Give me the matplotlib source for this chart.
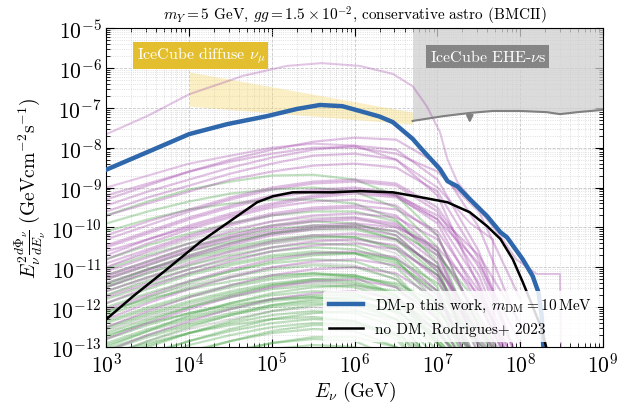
import numpy as np
import matplotlib
matplotlib.use("Agg")
import matplotlib.pyplot as plt

plt.rcParams['font.family'] = 'serif'
plt.rcParams['font.serif'] = ['cmr10']
plt.rcParams['mathtext.fontset'] = 'cm'
plt.rcParams['axes.formatter.use_mathtext'] = True
plt.rcParams['axes.unicode_minus'] = False

# ---------------- data (log10 values) ----------------
dm_logE = [3.0, 3.44, 4.0, 4.46, 4.94, 5.3, 5.58, 5.85, 6.06, 6.30, 6.46, 6.70, 6.81, 7.03, 7.12, 7.24,
           7.39, 7.60, 7.76, 7.84, 8.03, 8.15, 8.22, 8.26, 8.28]
dm_logF = [-8.55, -8.16, -7.66, -7.41, -7.21, -7.03, -6.93, -6.96, -7.08, -7.22, -7.36, -7.78, -8.04,
           -8.54, -8.84, -8.97, -9.29, -9.72, -10.12, -10.25, -10.80, -11.22, -11.63, -12.23, -13.06]

nodm_logE = [3.0, 3.32, 3.73, 4.13, 4.53, 4.82, 5.01, 5.25, 5.74, 6.06, 6.46, 6.79, 7.12, 7.39, 7.60,
             7.76, 7.91, 8.03, 8.15, 8.26, 8.32]
nodm_logF = [-12.30, -11.73, -11.05, -10.37, -9.79, -9.37, -9.22, -9.12, -9.12, -9.09, -9.12, -9.24,
             -9.37, -9.62, -9.97, -10.29, -10.80, -11.37, -11.98, -12.55, -13.06]

diff_logE = [4.0, 6.70]
diff_top = [-6.10, -7.11]
diff_bot = [-6.96, -7.41]

ehe_logE = [6.70, 7.07, 7.39, 7.67, 8.00, 8.32, 8.48, 8.69, 8.96, 9.0]
ehe_logF = [-7.33, -7.21, -7.13, -7.08, -7.08, -7.11, -7.16, -7.11, -7.06, -7.05]
ehe_arrow_logE = 7.39

grid_logE = [3.0, 3.5, 4.0, 4.5, 5.0, 5.5, 6.0, 6.5, 7.0, 7.5, 8.0]

purple_curves = [
    [-9.30, -8.95, -8.60, -8.30, -8.05, -7.85, -7.75, -7.80, -8.40, -10.0, -12.5],
    [-9.45, -9.10, -8.80, -8.50, -8.25, -8.05, -7.95, -8.05, -8.80, -10.6, -13.5],
    [-9.60, -9.25, -8.95, -8.65, -8.40, -8.20, -8.15, -8.30, -9.20, -11.5, -14.0],
    [-9.20, -8.90, -8.60, -8.35, -8.15, -8.00, -8.00, -8.15, -8.60, -9.60, -11.8],
    [-9.70, -9.40, -9.10, -8.80, -8.60, -8.45, -8.40, -8.50, -9.10, -10.8, -13.5],
    [-10.30, -9.95, -9.60, -9.30, -9.05, -8.90, -8.85, -8.95, -9.60, -11.2, -13.8],
    [-10.50, -10.15, -9.80, -9.50, -9.25, -9.10, -9.05, -9.20, -9.90, -11.8, -14.0],
    [-10.60, -10.30, -10.00, -9.70, -9.45, -9.25, -9.15, -9.25, -9.80, -10.9, -12.9],
    [-10.80, -10.40, -10.05, -9.75, -9.50, -9.35, -9.30, -9.45, -10.2, -12.5, -14.0],
    [-10.90, -10.55, -10.20, -9.90, -9.65, -9.50, -9.45, -9.55, -10.1, -11.6, -14.0],
    [-11.00, -10.60, -10.25, -9.95, -9.70, -9.55, -9.50, -9.70, -10.6, -13.2, -14.0],
    [-11.10, -10.75, -10.40, -10.10, -9.85, -9.70, -9.65, -9.75, -10.3, -11.9, -14.0],
    [-11.20, -10.85, -10.50, -10.20, -9.95, -9.80, -9.75, -9.90, -10.7, -12.8, -14.0],
    [-11.30, -10.95, -10.60, -10.30, -10.10, -9.95, -9.90, -10.00, -10.5, -11.7, -13.6],
    [-11.40, -11.05, -10.70, -10.40, -10.15, -10.00, -9.95, -10.10, -10.9, -13.0, -14.0],
    [-11.50, -11.10, -10.75, -10.45, -10.20, -10.05, -10.00, -10.20, -11.1, -13.5, -14.0],
    [-11.60, -11.25, -10.90, -10.60, -10.35, -10.20, -10.15, -10.30, -11.0, -12.6, -14.0],
    [-11.75, -11.40, -11.05, -10.75, -10.50, -10.35, -10.30, -10.45, -11.3, -13.6, -14.0],
    [-11.90, -11.50, -11.15, -10.85, -10.60, -10.45, -10.40, -10.55, -11.2, -12.9, -14.0],
    [-12.05, -11.70, -11.35, -11.05, -10.80, -10.65, -10.60, -10.75, -11.6, -14.0, -14.0],
    [-10.45, -10.10, -9.75, -9.45, -9.20, -9.05, -9.00, -9.15, -9.80, -11.4, -14.0],
    [-10.70, -10.30, -9.95, -9.65, -9.40, -9.20, -9.10, -9.20, -9.70, -10.7, -12.4],
    [-10.20, -9.85, -9.55, -9.25, -9.00, -8.85, -8.80, -8.90, -9.50, -11.0, -13.5],
    [-11.25, -10.90, -10.55, -10.25, -10.00, -9.85, -9.80, -9.95, -10.6, -12.2, -14.0],
    [-12.30, -11.90, -11.55, -11.25, -11.00, -10.85, -10.80, -10.95, -11.7, -14.0, -14.0],
    [-12.50, -12.10, -11.75, -11.45, -11.20, -11.05, -11.00, -11.15, -11.8, -13.5, -14.0],
    [-12.80, -12.40, -12.05, -11.75, -11.50, -11.35, -11.30, -11.50, -12.3, -14.0, -14.0],
    [-13.10, -12.70, -12.35, -12.05, -11.80, -11.65, -11.60, -11.80, -12.6, -14.0, -14.0],
]

green_curves = [
    [-9.70, -9.35, -9.05, -8.85, -8.70, -8.68, -8.80, -9.20, -10.2, -12.5, -14.0],
    [-9.90, -9.60, -9.35, -9.15, -9.05, -9.00, -9.10, -9.50, -10.5, -13.0, -14.0],
    [-10.10, -9.80, -9.55, -9.40, -9.30, -9.30, -9.40, -9.80, -10.9, -14.0, -14.0],
    [-11.20, -10.85, -10.50, -10.25, -10.05, -9.95, -10.00, -10.30, -11.2, -13.5, -14.0],
    [-11.40, -11.05, -10.75, -10.50, -10.30, -10.20, -10.25, -10.55, -11.5, -14.0, -14.0],
    [-11.60, -11.25, -10.95, -10.70, -10.50, -10.40, -10.45, -10.80, -11.9, -14.0, -14.0],
    [-11.80, -11.45, -11.15, -10.90, -10.70, -10.60, -10.65, -11.00, -11.95, -14.0, -14.0],
    [-12.00, -11.65, -11.35, -11.10, -10.90, -10.80, -10.85, -11.20, -12.3, -14.0, -14.0],
    [-12.20, -11.85, -11.50, -11.25, -11.05, -10.95, -11.00, -11.30, -12.2, -14.0, -14.0],
    [-12.35, -12.00, -11.70, -11.45, -11.25, -11.15, -11.20, -11.50, -12.5, -14.0, -14.0],
    [-12.50, -12.15, -11.85, -11.60, -11.40, -11.30, -11.35, -11.70, -12.8, -14.0, -14.0],
    [-12.65, -12.30, -12.00, -11.75, -11.55, -11.45, -11.50, -11.85, -12.9, -14.0, -14.0],
    [-12.80, -12.45, -12.15, -11.90, -11.70, -11.60, -11.65, -12.00, -13.1, -14.0, -14.0],
    [-12.95, -12.60, -12.30, -12.05, -11.85, -11.75, -11.80, -12.15, -13.3, -14.0, -14.0],
    [-13.10, -12.75, -12.45, -12.20, -12.00, -11.90, -11.95, -12.30, -13.5, -14.0, -14.0],
    [-13.30, -12.95, -12.65, -12.40, -12.20, -12.10, -12.15, -12.50, -14.0, -14.0, -14.0],
    [-13.50, -13.15, -12.85, -12.60, -12.40, -12.30, -12.35, -12.70, -14.0, -14.0, -14.0],
    [-13.80, -13.40, -13.10, -12.85, -12.65, -12.55, -12.60, -13.00, -14.0, -14.0, -14.0],
    [-14.10, -13.70, -13.35, -13.10, -12.90, -12.80, -12.85, -13.30, -14.0, -14.0, -14.0],
    [-14.50, -14.00, -13.60, -13.30, -13.05, -12.95, -13.00, -13.50, -14.0, -14.0, -14.0],
    [-11.30, -10.95, -10.60, -10.35, -10.15, -10.05, -10.05, -10.30, -11.0, -12.4, -14.0],
    [-11.90, -11.55, -11.20, -10.95, -10.75, -10.65, -10.65, -10.90, -11.6, -12.9, -14.0],
    [-12.40, -12.05, -11.75, -11.50, -11.30, -11.20, -11.20, -11.45, -12.1, -13.3, -14.0],
    [-12.90, -12.55, -12.25, -12.00, -11.80, -11.70, -11.70, -11.95, -12.6, -13.8, -14.0],
    [-13.00, -12.60, -12.20, -11.90, -11.65, -11.50, -11.45, -11.60, -12.1, -12.9, -14.0],
    [-13.40, -13.00, -12.65, -12.35, -12.10, -11.95, -11.90, -12.10, -12.7, -13.6, -14.0],
    [-13.70, -13.30, -12.95, -12.70, -12.50, -12.40, -12.40, -12.65, -13.3, -14.0, -14.0],
    [-12.10, -11.80, -11.55, -11.35, -11.20, -11.15, -11.25, -11.70, -12.9, -14.0, -14.0],
    [-12.70, -12.40, -12.15, -11.95, -11.80, -11.75, -11.85, -12.30, -13.5, -14.0, -14.0],
    [-13.20, -12.90, -12.65, -12.45, -12.30, -12.25, -12.35, -12.80, -14.0, -14.0, -14.0],
    [-10.80, -10.45, -10.15, -9.90, -9.70, -9.60, -9.60, -9.85, -10.6, -12.3, -14.0],
    [-11.05, -10.70, -10.40, -10.15, -9.95, -9.85, -9.90, -10.20, -11.1, -13.2, -14.0],
    [-11.50, -11.15, -10.80, -10.55, -10.35, -10.25, -10.25, -10.50, -11.2, -12.7, -14.0],
    [-11.70, -11.35, -11.05, -10.80, -10.60, -10.50, -10.55, -10.85, -11.7, -13.4, -14.0],
    [-12.15, -11.75, -11.40, -11.10, -10.85, -10.70, -10.65, -10.80, -11.4, -12.6, -14.0],
    [-12.55, -12.20, -11.90, -11.65, -11.45, -11.35, -11.40, -11.75, -12.6, -14.0, -14.0],
    [-12.75, -12.35, -12.00, -11.70, -11.45, -11.30, -11.25, -11.40, -11.9, -12.8, -14.0],
    [-13.05, -12.70, -12.40, -12.15, -11.95, -11.85, -11.85, -12.10, -12.8, -13.9, -14.0],
    [-13.25, -12.85, -12.50, -12.20, -11.95, -11.80, -11.75, -11.90, -12.4, -13.2, -14.0],
    [-13.60, -13.20, -12.85, -12.55, -12.30, -12.15, -12.10, -12.30, -12.9, -13.8, -14.0],
    [-13.90, -13.50, -13.15, -12.85, -12.60, -12.45, -12.45, -12.70, -13.4, -14.0, -14.0],
    [-14.20, -13.80, -13.45, -13.15, -12.90, -12.75, -12.75, -13.00, -13.7, -14.0, -14.0],
    [-14.60, -14.10, -13.75, -13.45, -13.20, -13.05, -13.05, -13.30, -14.0, -14.0, -14.0],
    [-11.45, -11.05, -10.70, -10.40, -10.15, -10.00, -9.95, -10.10, -10.7, -11.9, -14.0],
]

grey_curves = [
    [-11.00, -10.65, -10.30, -10.05, -9.85, -9.75, -9.75, -10.00, -10.8, -13.0, -14.0],
    [-11.50, -11.15, -10.85, -10.60, -10.40, -10.30, -10.35, -10.65, -11.6, -14.0, -14.0],
    [-12.10, -11.75, -11.45, -11.20, -11.00, -10.90, -10.95, -11.30, -12.3, -14.0, -14.0],
    [-12.60, -12.25, -11.95, -11.70, -11.50, -11.40, -11.45, -11.80, -12.9, -14.0, -14.0],
    [-13.20, -12.85, -12.55, -12.30, -12.10, -12.00, -12.05, -12.40, -13.6, -14.0, -14.0],
    [-11.70, -11.30, -10.95, -10.65, -10.40, -10.25, -10.20, -10.35, -11.0, -12.5, -14.0],
]

ptop_logE = [3.0, 3.5, 4.0, 4.65, 5.18, 5.6, 6.06, 6.46, 6.70, 6.87, 7.03, 7.12, 7.24, 7.53, 7.76,
             7.95, 8.20, 8.48, 8.50]
ptop_logF = [-7.66, -7.20, -6.66, -6.20, -5.95, -5.88, -5.95, -6.15, -6.46, -6.96, -7.61, -8.29, -8.86,
             -9.62, -10.22, -10.80, -11.17, -11.17, -14.0]
pdrop_logE = [3.0, 4.0, 5.0, 5.5, 6.0, 6.5, 7.0, 7.4, 7.67, 7.68]
pdrop_logF = [-9.00, -8.40, -8.00, -7.90, -7.95, -8.30, -9.00, -9.90, -10.30, -14.0]

# ---------------- figure ----------------
fig = plt.figure(figsize=(6.17, 4.10), dpi=100)
ax = fig.add_axes([0.1726, 0.1512, 0.8047, 0.7780])

ge = 10 ** np.array(grid_logE)
for c in green_curves:
    ax.plot(ge, 10 ** np.array(c), color='#3f9e3f', alpha=0.33, lw=1.6, zorder=2)
for c in grey_curves:
    ax.plot(ge, 10 ** np.array(c), color='#666666', alpha=0.2, lw=1.4, zorder=2)
for c in purple_curves:
    ax.plot(ge, 10 ** np.array(c), color='#a040a8', alpha=0.32, lw=1.6, zorder=2)
ax.plot(10 ** np.array(ptop_logE), 10 ** np.array(ptop_logF), color='#a040a8', alpha=0.3, lw=1.5, zorder=2)
ax.plot(10 ** np.array(pdrop_logE), 10 ** np.array(pdrop_logF), color='#a040a8', alpha=0.3, lw=1.5, zorder=2)

de = 10 ** np.array(diff_logE)
ax.fill_between(de, 10 ** np.array(diff_bot), 10 ** np.array(diff_top), color='#f5d76e', alpha=0.4,
                lw=0, zorder=1.5)

ee = 10 ** np.array(ehe_logE)
ax.fill_between(ee, 10 ** np.array(ehe_logF), 1e-5, color='#cfcfcf', alpha=0.75, lw=0, zorder=1.5)
ax.plot(ee, 10 ** np.array(ehe_logF), color='#808080', lw=1.5, zorder=3)
ya = 10 ** np.interp(ehe_arrow_logE, ehe_logE, ehe_logF)
ax.annotate('', xy=(10 ** ehe_arrow_logE, ya * 10 ** -0.32), xytext=(10 ** ehe_arrow_logE, ya),
            arrowprops=dict(arrowstyle='-|>', color='#808080', lw=1.5, mutation_scale=10), zorder=3)

ax.plot(10 ** np.array(dm_logE), 10 ** np.array(dm_logF), color='#2e67ab', lw=3.2, zorder=5,
        label=r'DM-p this work, $m_{\rm DM}=10\,\mathrm{MeV}$')
ax.plot(10 ** np.array(nodm_logE), 10 ** np.array(nodm_logF), color='black', lw=1.8, zorder=5,
        label='no DM, Rodrigues+ 2023')

ax.set_xscale('log')
ax.set_yscale('log')
ax.set_xlim(1e3, 1e9)
ax.set_ylim(1e-13, 1e-5)

ax.text(0.190, 0.915, r'IceCube diffuse $\nu_\mu$', transform=ax.transAxes, ha='center', va='center',
        fontsize=11.5, color='white', zorder=6,
        bbox=dict(boxstyle='square,pad=0.2', fc='#e3bf2f', ec='none'))
ax.text(0.768, 0.911, r'IceCube EHE-$\nu$s', transform=ax.transAxes, ha='center', va='center',
        fontsize=11.5, color='white', zorder=6,
        bbox=dict(boxstyle='square,pad=0.2', fc='#858585', ec='none'))

ax.set_title(r'$m_Y=5$ GeV, $gg=1.5\times10^{-2}$, conservative astro (BMCII)', fontsize=11, pad=6)
ax.set_xlabel(r'$E_\nu\ (\mathrm{GeV})$', fontsize=14, labelpad=2)
ax.set_ylabel(r'$E_\nu^2\frac{d\Phi_\nu}{dE_\nu}\ (\mathrm{GeV cm^{-2} s^{-1}})$', fontsize=14, labelpad=2)

ax.xaxis.set_major_locator(matplotlib.ticker.LogLocator(base=10, numticks=20))
ax.yaxis.set_major_locator(matplotlib.ticker.LogLocator(base=10, numticks=20))
ax.xaxis.set_minor_locator(matplotlib.ticker.LogLocator(base=10, subs=np.arange(2, 10), numticks=100))
ax.yaxis.set_minor_locator(matplotlib.ticker.LogLocator(base=10, subs=np.arange(2, 10), numticks=100))
ax.tick_params(which='both', direction='in', top=True, right=True, labelsize=15.5)
ax.tick_params(which='major', length=6, width=0.8)
ax.tick_params(which='minor', length=3, width=0.6)
ax.grid(which='major', color='#b0b0b0', ls='--', lw=0.6, alpha=0.7)
ax.grid(which='minor', color='#c4c4c4', ls=':', lw=0.6, alpha=0.7)
ax.set_axisbelow(True)

leg = ax.legend(loc='lower right', fontsize=11, framealpha=0.85, edgecolor='none', fancybox=True,
                borderaxespad=0.3, handlelength=2.2)
leg.set_zorder(10)

fig.savefig('out.png', dpi=100)
